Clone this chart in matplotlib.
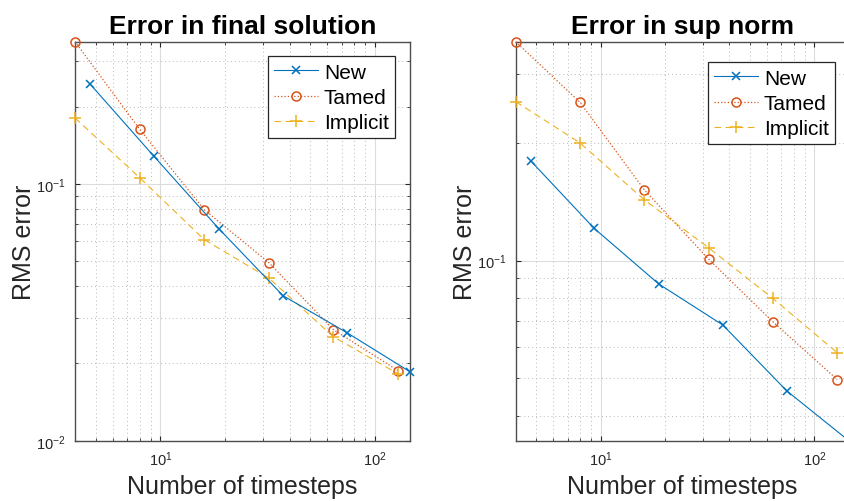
import matplotlib
matplotlib.use('Agg')
import matplotlib.pyplot as plt
import matplotlib.ticker as mticker
import numpy as np

plt.rcParams['font.family'] = ['Liberation Sans', 'DejaVu Sans']
plt.rcParams['mathtext.fontset'] = 'custom'
plt.rcParams['mathtext.rm'] = 'Liberation Sans'
plt.rcParams['mathtext.it'] = 'Liberation Sans:italic'
plt.rcParams['mathtext.bf'] = 'Liberation Sans:bold'

## data
steps = [4, 8, 16, 32, 64, 128]           # Tamed and Implicit
steps_new = [4.7, 9.3, 18.7, 37.3, 74.3, 145]

final_new = [0.245, 0.1285, 0.067, 0.0367, 0.0263, 0.0186]
final_tamed = [0.358, 0.1634, 0.0794, 0.0494, 0.0271, 0.01875]
final_implicit = [0.1807, 0.1058, 0.0607, 0.043, 0.0254, 0.01824]

sup_new = [0.180, 0.121, 0.0871, 0.0684, 0.0464, 0.0346]
sup_tamed = [0.363, 0.254, 0.1517, 0.1008, 0.0697, 0.0496]
sup_implicit = [0.255, 0.2, 0.143, 0.1078, 0.08, 0.0581]

c_new = '#0072BD'
c_tamed = '#D95319'
c_impl = '#EDB120'
c_axis = '#262626'

fig = plt.figure(figsize=(8.45, 5.02), dpi=100)
ax1 = fig.add_axes([0.0888, 0.1201, 0.3959, 0.7948])
ax2 = fig.add_axes([0.6103, 0.1201, 0.3942, 0.7948])


def draw(ax, ynew, ytamed, yimpl, title, ylim, leg_anchor):
    ax.plot(steps_new, ynew, '-x', color=c_new, lw=0.8, ms=6, mew=1.1, label='New', clip_on=False, zorder=5)
    ax.plot(steps, ytamed, ':o', color=c_tamed, lw=0.9, ms=6.5, mew=1.1, mfc='none', label='Tamed', clip_on=False, zorder=4)
    ax.plot(steps, yimpl, '--+', color=c_impl, lw=0.8, ms=8, mew=1.1, label='Implicit', clip_on=False, zorder=4,
            dashes=(6, 4))
    ax.set_xscale('log')
    ax.set_yscale('log')
    ax.set_xlim(4, 145)
    ax.set_ylim(*ylim)
    ax.xaxis.set_major_locator(mticker.LogLocator(base=10, numticks=10))
    ax.xaxis.set_minor_locator(mticker.LogLocator(base=10, subs=np.arange(2, 10), numticks=20))
    ax.yaxis.set_major_locator(mticker.LogLocator(base=10, numticks=10))
    ax.yaxis.set_minor_locator(mticker.LogLocator(base=10, subs=np.arange(2, 10), numticks=20))
    ax.xaxis.set_minor_formatter(mticker.NullFormatter())
    ax.yaxis.set_minor_formatter(mticker.NullFormatter())
    ax.grid(which='major', color='#dcdcdc', lw=0.8, ls='-')
    ax.grid(which='minor', color='#b8b8b8', lw=0.7, ls=(0, (1, 3)))
    ax.set_axisbelow(True)
    ax.tick_params(which='both', direction='in', top=True, right=True, colors=c_axis, labelsize=10.5, pad=6.5)
    ax.tick_params(which='major', length=3.5, width=0.8)
    ax.tick_params(which='minor', length=2.5, width=0.6)
    for s in ax.spines.values():
        s.set_color('#4d4d4d')
        s.set_linewidth(1.0)
    ax.set_title(title, fontsize=19, fontweight='bold', pad=6)
    ax.set_xlabel('Number of timesteps', fontsize=18, color=c_axis, labelpad=4)
    ax.set_ylabel('RMS error', fontsize=18, color=c_axis)
    ax.yaxis.set_label_coords(-0.117, 0.5)
    leg = ax.legend(loc='upper right', bbox_to_anchor=leg_anchor, borderaxespad=0, fontsize=15,
                    fancybox=False, framealpha=1, edgecolor=c_axis, handlelength=2.1,
                    handletextpad=0.3, labelspacing=0.3, borderpad=0.3)
    leg.get_frame().set_linewidth(0.9)


draw(ax1, final_new, final_tamed, final_implicit, 'Error in final solution', (0.01, 0.358), (0.9567, 0.9634))
draw(ax2, sup_new, sup_tamed, sup_implicit, 'Error in sup norm', (0.0346, 0.363), (0.9586, 0.9484))

fig.savefig('out.png', dpi=100)
